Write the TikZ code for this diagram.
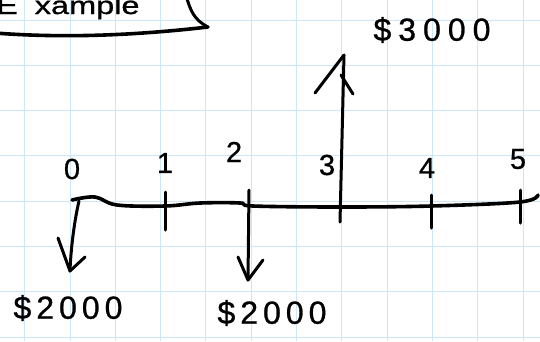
\documentclass[tikz,border=0pt]{standalone}
\usepackage{fontspec}
\setmainfont{Liberation Sans}
\newfontfamily\hand[FakeBold=0.8]{Liberation Sans}
\definecolor{gridblue}{RGB}{204,231,250}
\tikzset{
  ink/.style={line width=3pt, line cap=round, line join=round},
  axisink/.style={line width=3.6pt, line cap=round, line join=round},
  gridline/.style={gridblue, line width=1pt},
  ticklbl/.style={font=\hand\fontsize{29}{29}\selectfont, inner sep=0pt},
  amount/.style={font=\hand\fontsize{32}{32}\selectfont, inner sep=0pt},
}
\begin{document}
\begin{tikzpicture}[x=1pt,y=-1pt]
\fill[white] (0,0) rectangle (540,341);
\useasboundingbox (0,0) rectangle (540,341);
\begin{scope}
\clip (0,0) rectangle (540,341);
% grid paper
\foreach \i in {0,...,11} \draw[gridline] ({24.7+45.3*\i},0) -- ({24.7+45.3*\i},341);
\foreach \j in {0,...,7} \draw[gridline] (0,{20+45.3*\j}) -- (540,{20+45.3*\j});
% title box (cut off)
\coordinate (boxl) at (-5,33);
\coordinate (boxr) at (208,27);
\coordinate (boxt) at (186,-5);
\draw[axisink] (boxl) .. controls (60,38) and (130,36) .. (boxr);
\draw[ink] (boxt) .. controls (190,10) and (194,20) .. (boxr);
\node[anchor=base west, inner sep=0pt, font=\hand\fontsize{25}{25}\selectfont] (title) at (-4,14) {\scalebox{1.3}[1]{E\hspace{13pt}xample}};
% time line
\draw[axisink] plot[smooth, tension=0.6] coordinates {(72,200) (95,197) (117,205) (165,206) (200,203) (240,203) (253,206) (340,207) (431,206) (520,202) (538,195)};
% ticks
\coordinate (t1a) at (165,192); \coordinate (t1b) at (165,230);
\coordinate (t4a) at (431,195); \coordinate (t4b) at (431,228);
\coordinate (t5a) at (520,190); \coordinate (t5b) at (520,223);
\draw[ink] (t1a) -- (t1b);
\draw[ink] (t4a) -- (t4b);
\draw[ink] (t5a) -- (t5b);
% arrow at 0 (down)
\coordinate (a0s) at (79,201); \coordinate (a0e) at (70,271);
\coordinate (a0l) at (58,238); \coordinate (a0r) at (85,257);
\draw[ink] (a0s) .. controls (75,218) and (71,245) .. (a0e);
\draw[ink] (a0l) -- (a0e) -- (a0r);
% arrow at 2 (down)
\coordinate (a2s) at (249,190); \coordinate (a2e) at (248,280);
\coordinate (a2l) at (238,257); \coordinate (a2r) at (263,260);
\draw[ink] (a2s) -- (a2e);
\draw[ink] (a2l) -- (a2e) -- (a2r);
% arrow at 3 (up)
\coordinate (a3s) at (340,222); \coordinate (a3e) at (344,55);
\coordinate (a3l) at (315,93); \coordinate (a3r) at (353,94);
\draw[ink] (a3s) -- (a3e);
\draw[ink] (a3l) -- (a3e);
\draw[ink] (341,75) -- (a3r);
% period labels
\node[ticklbl] (l0) at (72,169) {0};
\node[ticklbl] (l1) at (165,163) {1};
\node[ticklbl] (l2) at (234,152) {2};
\node[ticklbl] (l3) at (327,165) {3};
\node[ticklbl] (l4) at (427,168) {4};
\node[ticklbl] (l5) at (518,159) {5};
% amounts
\node[amount] (m3) at (432,30) {\$\kern7pt 3\kern7pt 0\kern7pt 0\kern7pt 0};
\node[amount] (m0) at (68,308) {\$\kern5pt 2\kern5pt 0\kern5pt 0\kern5pt 0};
\node[amount] (m2) at (272,313) {\$\kern5pt 2\kern5pt 0\kern5pt 0\kern5pt 0};
\end{scope}
\end{tikzpicture}
\end{document}
